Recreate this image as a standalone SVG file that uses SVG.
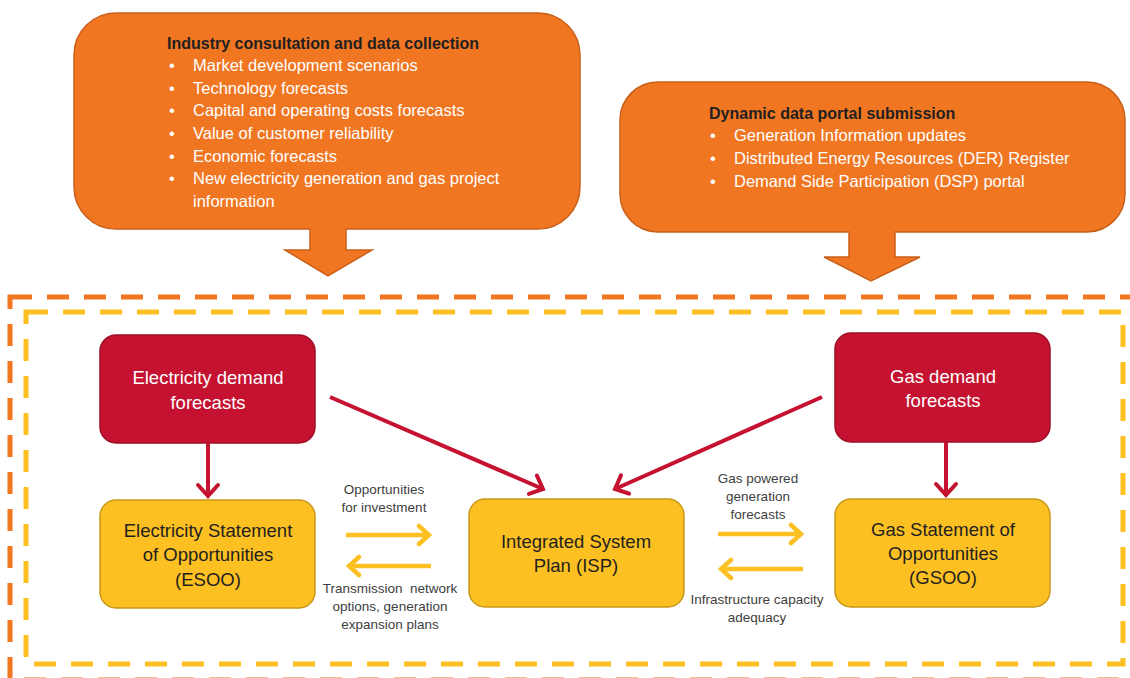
<svg xmlns="http://www.w3.org/2000/svg" width="1130" height="678" viewBox="0 0 1130 678">
<style>
.callout{fill:#F07622;stroke:#C9601A;stroke-width:1.5}
.ttl{font-family:"Liberation Sans",Arial,sans-serif;font-weight:bold;font-size:16px;fill:#231F20}
.bl{font-family:"Liberation Sans",Arial,sans-serif;font-size:16.5px;fill:#FFFFFF}
.red{fill:#C41230;stroke:#9E0E26;stroke-width:1.5}
.yel{fill:#FDC022;stroke:#C9981A;stroke-width:1.5}
.wt{font-family:"Liberation Sans",Arial,sans-serif;font-size:18.5px;fill:#FFFFFF;text-anchor:middle}
.dk{font-family:"Liberation Sans",Arial,sans-serif;font-size:18.5px;fill:#231F20;text-anchor:middle}
.lbl{font-family:"Liberation Sans",Arial,sans-serif;font-size:13.5px;fill:#404040;text-anchor:middle}
.rl{stroke:#C41230;stroke-width:4;fill:none}
.yl{stroke:#FDC022;stroke-width:4.5;fill:none}
</style>
<defs>
<marker id="rh" markerUnits="userSpaceOnUse" viewBox="-14 -13 17 26" markerWidth="17" markerHeight="26" refX="0" refY="0" orient="auto">
<path d="M-11,-10 L0,0 L-11,10" fill="none" stroke="#C41230" stroke-width="4" stroke-linecap="round" stroke-linejoin="miter"/>
</marker>
<marker id="yh" markerUnits="userSpaceOnUse" viewBox="-14 -13 17 26" markerWidth="17" markerHeight="26" refX="0" refY="0" orient="auto">
<path d="M-10,-9 L0,0 L-10,9" fill="none" stroke="#FDC022" stroke-width="4.5" stroke-linecap="round" stroke-linejoin="miter"/>
</marker>
</defs>
<rect width="1130" height="678" fill="#FFFFFF"/>

<g id="frame-outer">
<rect x="10" y="297" width="1140" height="383" fill="none" stroke="#F07622" stroke-width="5" stroke-dasharray="22 15"/>
</g>
<g id="frame-inner">
<rect x="26" y="312" width="1097" height="352" fill="none" stroke="#FDC022" stroke-width="5" stroke-dasharray="22 15"/>
</g>

<g id="callout-industry">
<path class="callout" d="M116,13 H538 A42,42 0 0 1 580,55 V187 A42,42 0 0 1 538,229 H346 V250 H372 L328,276 L285,250 H310 V229 H116 A42,42 0 0 1 74,187 V55 A42,42 0 0 1 116,13 Z"/>
<text class="ttl" x="167" y="49">Industry consultation and data collection</text>
<g class="bl">
<text x="169" y="71">•</text><text x="193" y="71">Market development scenarios</text>
<text x="169" y="94">•</text><text x="193" y="94">Technology forecasts</text>
<text x="169" y="116">•</text><text x="193" y="116">Capital and operating costs forecasts</text>
<text x="169" y="139">•</text><text x="193" y="139">Value of customer reliability</text>
<text x="169" y="162">•</text><text x="193" y="162">Economic forecasts</text>
<text x="169" y="184">•</text><text x="193" y="184">New electricity generation and gas project</text>
<text x="193" y="207">information</text>
</g>
</g>

<g id="callout-portal">
<path class="callout" d="M658,82 H1087 A38,38 0 0 1 1125,120 V194 A38,38 0 0 1 1087,232 H895 V257 H920 L871,281 L824,257 H849 V232 H658 A38,38 0 0 1 620,194 V120 A38,38 0 0 1 658,82 Z"/>
<text class="ttl" x="709" y="119">Dynamic data portal submission</text>
<g class="bl">
<text x="710" y="141">•</text><text x="734" y="141">Generation Information updates</text>
<text x="710" y="164">•</text><text x="734" y="164">Distributed Energy Resources (DER) Register</text>
<text x="710" y="187">•</text><text x="734" y="187">Demand Side Participation (DSP) portal</text>
</g>
</g>

<g id="elec-demand">
<rect class="red" x="100" y="335" width="215" height="108" rx="16"/>
<text class="wt" x="208" y="384">Electricity demand</text>
<text class="wt" x="208" y="409">forecasts</text>
</g>
<g id="gas-demand">
<rect class="red" x="835" y="333" width="215" height="109" rx="16"/>
<text class="wt" x="943" y="383">Gas demand</text>
<text class="wt" x="943" y="407">forecasts</text>
</g>
<g id="esoo">
<rect class="yel" x="100" y="500" width="215" height="108" rx="16"/>
<text class="dk" x="208" y="537">Electricity Statement</text>
<text class="dk" x="208" y="561">of Opportunities</text>
<text class="dk" x="208" y="586">(ESOO)</text>
</g>
<g id="isp">
<rect class="yel" x="469" y="499" width="215" height="108" rx="16"/>
<text class="dk" x="576" y="548">Integrated System</text>
<text class="dk" x="576" y="572">Plan (ISP)</text>
</g>
<g id="gsoo">
<rect class="yel" x="835" y="499" width="215" height="108" rx="16"/>
<text class="dk" x="943" y="536">Gas Statement of</text>
<text class="dk" x="943" y="560">Opportunities</text>
<text class="dk" x="943" y="584">(GSOO)</text>
</g>

<g id="connectors">
<line class="rl" x1="208" y1="443" x2="208" y2="496" marker-end="url(#rh)"/>
<line class="rl" x1="946" y1="442" x2="946" y2="495" marker-end="url(#rh)"/>
<line class="rl" x1="330" y1="397" x2="543" y2="489" marker-end="url(#rh)"/>
<line class="rl" x1="822" y1="397" x2="615" y2="489" marker-end="url(#rh)"/>
<line class="yl" x1="346" y1="535" x2="429" y2="535" marker-end="url(#yh)"/>
<line class="yl" x1="431" y1="566" x2="349" y2="566" marker-end="url(#yh)"/>
<line class="yl" x1="718" y1="534" x2="801" y2="534" marker-end="url(#yh)"/>
<line class="yl" x1="803" y1="569" x2="721" y2="569" marker-end="url(#yh)"/>
</g>

<g id="labels">
<text class="lbl" x="384" y="494">Opportunities</text>
<text class="lbl" x="384" y="512">for investment</text>
<text class="lbl" x="390" y="593" xml:space="preserve">Transmission  network</text>
<text class="lbl" x="390" y="611">options, generation</text>
<text class="lbl" x="390" y="629">expansion plans</text>
<text class="lbl" x="758" y="483">Gas powered</text>
<text class="lbl" x="758" y="501">generation</text>
<text class="lbl" x="758" y="519">forecasts</text>
<text class="lbl" x="757" y="604">Infrastructure capacity</text>
<text class="lbl" x="757" y="622">adequacy</text>
</g>
</svg>
